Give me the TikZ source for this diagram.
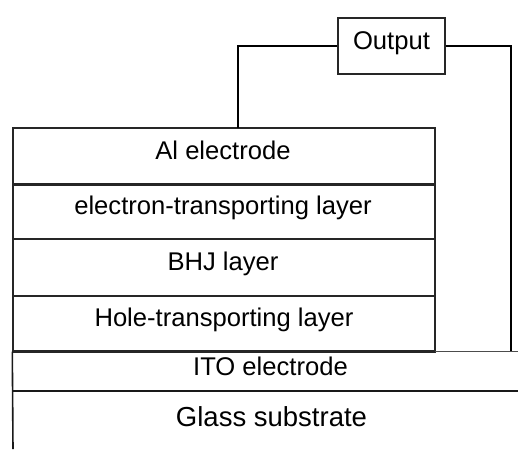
\documentclass[tikz,border=0pt]{standalone}
\usepackage{fontspec}
\setmainfont{Liberation Sans}
\begin{document}
\begin{tikzpicture}[x=1pt,y=-1pt,
  layerbox/.style={draw=black!85, line width=1.4pt, rectangle, inner sep=0pt, minimum width=422pt},
  lbl/.style={inner sep=0pt, font=\fontsize{25.6}{30}\selectfont, text height=0.716em, text depth=0pt},
  wire/.style={draw=black, line width=2pt},
  outbox/.style={draw=black!85, line width=1.2pt, rectangle, inner sep=0pt, minimum width=107pt, minimum height=56pt, font=\fontsize{25.6}{30}\selectfont, text height=0.716em, text depth=0pt}
]
\useasboundingbox (0,0) rectangle (518,449);
% layer rectangles
\node[layerbox, minimum height=56pt] (alr) at (224,156) {};
\node[layerbox, minimum height=55pt] (etlr) at (224,211.5) {};
\node[layerbox, minimum height=57pt] (bhjr) at (224,267.5) {};
\node[layerbox, minimum height=55pt] (htlr) at (224,323.5) {};
\draw[draw=black!85, line width=1.8pt] (alr.south west) -- (alr.south east);
\draw[draw=black!85, line width=1.8pt] (htlr.south west) -- (htlr.south east);
% labels
\node[lbl] (al) at (223,155.5) {Al electrode};
\node[lbl] (etl) at (223,211) {electron-transporting layer};
\node[lbl] (bhj) at (223,267) {BHJ layer};
\node[lbl] (htl) at (224,323) {Hole-transporting layer};
\node[lbl] (ito) at (270.5,371.5) {ITO electrode};
\node[lbl, font=\fontsize{27.5}{32}\selectfont] (glass) at (271.5,422.5) {Glass substrate};
% ITO / glass lines
\coordinate (itotl) at (435,351);
\coordinate (itotr) at (518,351);
\coordinate (itobl) at (13,391);
\coordinate (itobr) at (518,391);
\coordinate (leftb) at (13,449);
\draw[draw=black!70, line width=1pt] (itotl) -- (itotr);
\draw[draw=black!90, line width=2pt] (itobl) -- (itobr);
\draw[draw=black!90, line width=1.6pt] (htlr.south west) -- (leftb);
% output
\node[outbox] (out) at (391.5,46) {Output};
\coordinate (wl) at (238,128);
\coordinate (wr) at (511,351);
\draw[wire] (wl) |- (out.west);
\draw[wire] (out.east) -| (wr);
\end{tikzpicture}
\end{document}
